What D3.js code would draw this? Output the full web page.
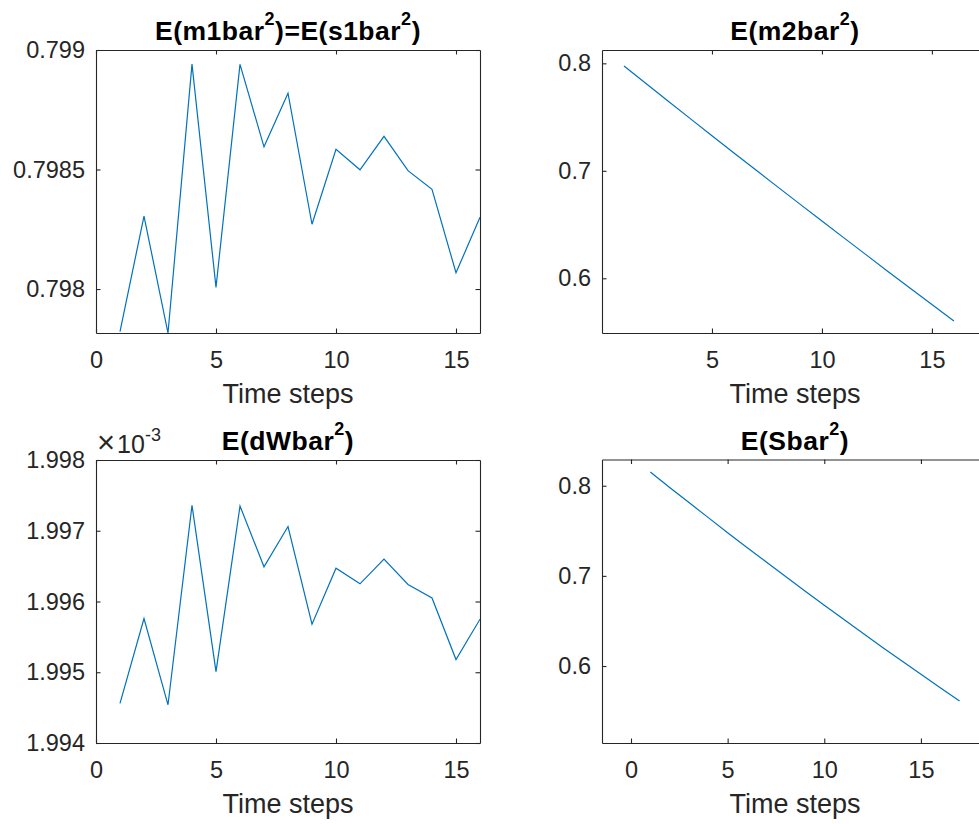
<!DOCTYPE html>
<html>
<head>
<meta charset="utf-8">
<script src="https://cdn.jsdelivr.net/npm/d3@7"></script>
<style>
  html, body { margin: 0; padding: 0; background: #fff; }
  svg { display: block; }
  text { font-family: "Liberation Sans", Arial, Helvetica, sans-serif; }
</style>
</head>
<body>
<svg id="fig" width="979" height="824"></svg>
<script>
// ---- data -------------------------------------------------------------
const steps16 = [1, 2, 3, 4, 5, 6, 7, 8, 9, 10, 11, 12, 13, 14, 15, 16];
const steps17 = [1, 2, 3, 4, 5, 6, 7, 8, 9, 10, 11, 12, 13, 14, 15, 16, 17];

// E(m1bar^2) = E(s1bar^2)
const m1barSq = [0.797822, 0.798305, 0.797816, 0.798941, 0.798007, 0.798940,
                 0.798595, 0.798819, 0.798271, 0.798585, 0.798499, 0.798639,
                 0.798495, 0.798417, 0.798068, 0.798300];
// E(m2bar^2)
const m2barSq = [0.7975, 0.7812, 0.7650, 0.7488, 0.7326, 0.7166, 0.7007, 0.6848,
                 0.6690, 0.6533, 0.6376, 0.6220, 0.6064, 0.5910, 0.5756, 0.5603];
// E(dWbar^2)
const dWbarSq = [1.99456e-3, 1.99576e-3, 1.99454e-3, 1.99736e-3, 1.99501e-3, 1.99735e-3,
                 1.99649e-3, 1.99706e-3, 1.99568e-3, 1.99647e-3, 1.99625e-3, 1.99660e-3,
                 1.99624e-3, 1.99605e-3, 1.99518e-3, 1.99575e-3];
// E(Sbar^2)
const SbarSq = [0.8152, 0.7981, 0.7813, 0.7646, 0.7479, 0.7315, 0.7153, 0.6992, 0.6832,
                0.6674, 0.6518, 0.6363, 0.6209, 0.6058, 0.5908, 0.5759, 0.5612];

// tick values
const xTicksFrom0 = [0, 5, 10, 15];
const xTicksFrom5 = [5, 10, 15];
const yTicksM1 = [0.798, 0.7985, 0.799];
const yTicksM2 = [0.6, 0.7, 0.8];
const yTicksDW = [1.994e-3, 1.995e-3, 1.996e-3, 1.997e-3, 1.998e-3];
const yTicksS = [0.6, 0.7, 0.8];

// ---- drawing ----------------------------------------------------------
const svg = d3.select("#fig");
const AX = "#262626";
const LINE = "#0072BD";
const TICK_FS = 23.5;
const LABEL_FS = 27;
const TITLE_FS = 26.5;
const TICK_LEN = 4.5;

const panels = [
  { id: "p1", box: [96, 50, 480, 333], xDom: [0, 16], yDom: [0.797816, 0.799],
    xs: steps16, ys: m1barSq, xTicks: xTicksFrom0, yTicks: yTicksM1,
    yFmt: d => d3.format("")(+d.toFixed(4)),
    title: [["E(m1bar", 0], ["2", 1], [")=E(s1bar", 0], ["2", 1], [")", 0]] },
  { id: "p2", box: [602, 50, 988, 333], xDom: [0, 17.55], yDom: [0.5491, 0.8124],
    xs: steps16, ys: m2barSq, xTicks: xTicksFrom5, yTicks: yTicksM2,
    yFmt: d => d.toFixed(1),
    title: [["E(m2bar", 0], ["2", 1], [")", 0]] },
  { id: "p3", box: [96, 460, 480, 743], xDom: [0, 16], yDom: [1.994e-3, 1.998e-3],
    xs: steps16, ys: dWbarSq, xTicks: xTicksFrom0, yTicks: yTicksDW,
    yFmt: d => (d * 1e3).toFixed(3), exponent: "-3",
    title: [["E(dWbar", 0], ["2", 1], [")", 0]] },
  { id: "p4", box: [602, 459.5, 988, 743], xDom: [-1.5, 18.47], yDom: [0.5146, 0.8291],
    xs: steps17, ys: SbarSq, xTicks: xTicksFrom0, yTicks: yTicksS,
    yFmt: d => d.toFixed(1),
    title: [["E(Sbar", 0], ["2", 1], [")", 0]] }
];

panels.forEach(p => {
  const [x0, y0, x1, y1] = p.box;
  const x = d3.scaleLinear().domain(p.xDom).range([x0, x1]);
  const y = d3.scaleLinear().domain(p.yDom).range([y1, y0]);

  const defs = svg.append("defs");
  defs.append("clipPath").attr("id", "clip-" + p.id)
    .append("rect").attr("x", x0).attr("y", y0).attr("width", x1 - x0).attr("height", y1 - y0);

  // data line
  svg.append("path")
    .datum(p.xs.map((t, i) => [t, p.ys[i]]))
    .attr("clip-path", `url(#clip-${p.id})`)
    .attr("fill", "none")
    .attr("stroke", LINE)
    .attr("stroke-width", 1.2)
    .attr("stroke-linejoin", "miter")
    .attr("d", d3.line().x(d => x(d[0])).y(d => y(d[1])));

  const styleAxis = g => {
    g.selectAll(".domain").attr("stroke", AX).attr("stroke-width", 1.1);
    g.selectAll(".tick line").attr("stroke", AX).attr("stroke-width", 1.1);
    g.selectAll(".tick text").attr("fill", AX).style("font-size", TICK_FS + "px")
      .style("font-family", '"Liberation Sans", Arial, Helvetica, sans-serif');
  };

  // bottom axis with labels
  svg.append("g").attr("transform", `translate(0,${y1})`)
    .call(d3.axisBottom(x).tickValues(p.xTicks).tickSizeInner(-TICK_LEN).tickSizeOuter(0)
      .tickPadding(18).tickFormat(d3.format("d")))
    .call(styleAxis);
  // top axis (box)
  svg.append("g").attr("transform", `translate(0,${y0})`)
    .call(d3.axisTop(x).tickValues(p.xTicks).tickSizeInner(-TICK_LEN).tickSizeOuter(0).tickFormat(""))
    .call(styleAxis);
  // left axis with labels
  svg.append("g").attr("transform", `translate(${x0},0)`)
    .call(d3.axisLeft(y).tickValues(p.yTicks).tickSizeInner(-TICK_LEN).tickSizeOuter(0)
      .tickPadding(11).tickFormat(p.yFmt))
    .call(styleAxis);
  // right axis (box)
  svg.append("g").attr("transform", `translate(${x1},0)`)
    .call(d3.axisRight(y).tickValues(p.yTicks).tickSizeInner(-TICK_LEN).tickSizeOuter(0).tickFormat(""))
    .call(styleAxis);

  // x label
  svg.append("text")
    .attr("x", (x0 + x1) / 2).attr("y", y1 + 70)
    .attr("text-anchor", "middle")
    .attr("fill", AX)
    .style("font-size", LABEL_FS + "px")
    .text("Time steps");

  // title with superscripts
  const t = svg.append("text")
    .attr("x", (x0 + x1) / 2).attr("y", y0 - 10)
    .attr("text-anchor", "middle")
    .attr("fill", "#000")
    .style("font-size", TITLE_FS + "px")
    .style("font-weight", "bold")
    .style("letter-spacing", "0.5px");
  let raised = false;
  p.title.forEach(([s, sup]) => {
    const ts = t.append("tspan").text(s);
    if (sup && !raised) { ts.attr("dy", -15).style("font-size", "18px"); raised = true; }
    else if (!sup && raised) { ts.attr("dy", 15); raised = false; }
  });

  // exponent multiplier
  if (p.exponent) {
    const e = svg.append("text")
      .attr("x", x0 + 1).attr("y", y0 - 7)
      .attr("fill", AX)
      .style("font-size", TICK_FS + "px");
    e.append("tspan").style("font-size", "31px").text("\u00D7");
    e.append("tspan").attr("dx", 2).style("font-size", "25px").text("10");
    e.append("tspan").attr("dy", -12).style("font-size", "18px").text(p.exponent);
  }
});
</script>
</body>
</html>
